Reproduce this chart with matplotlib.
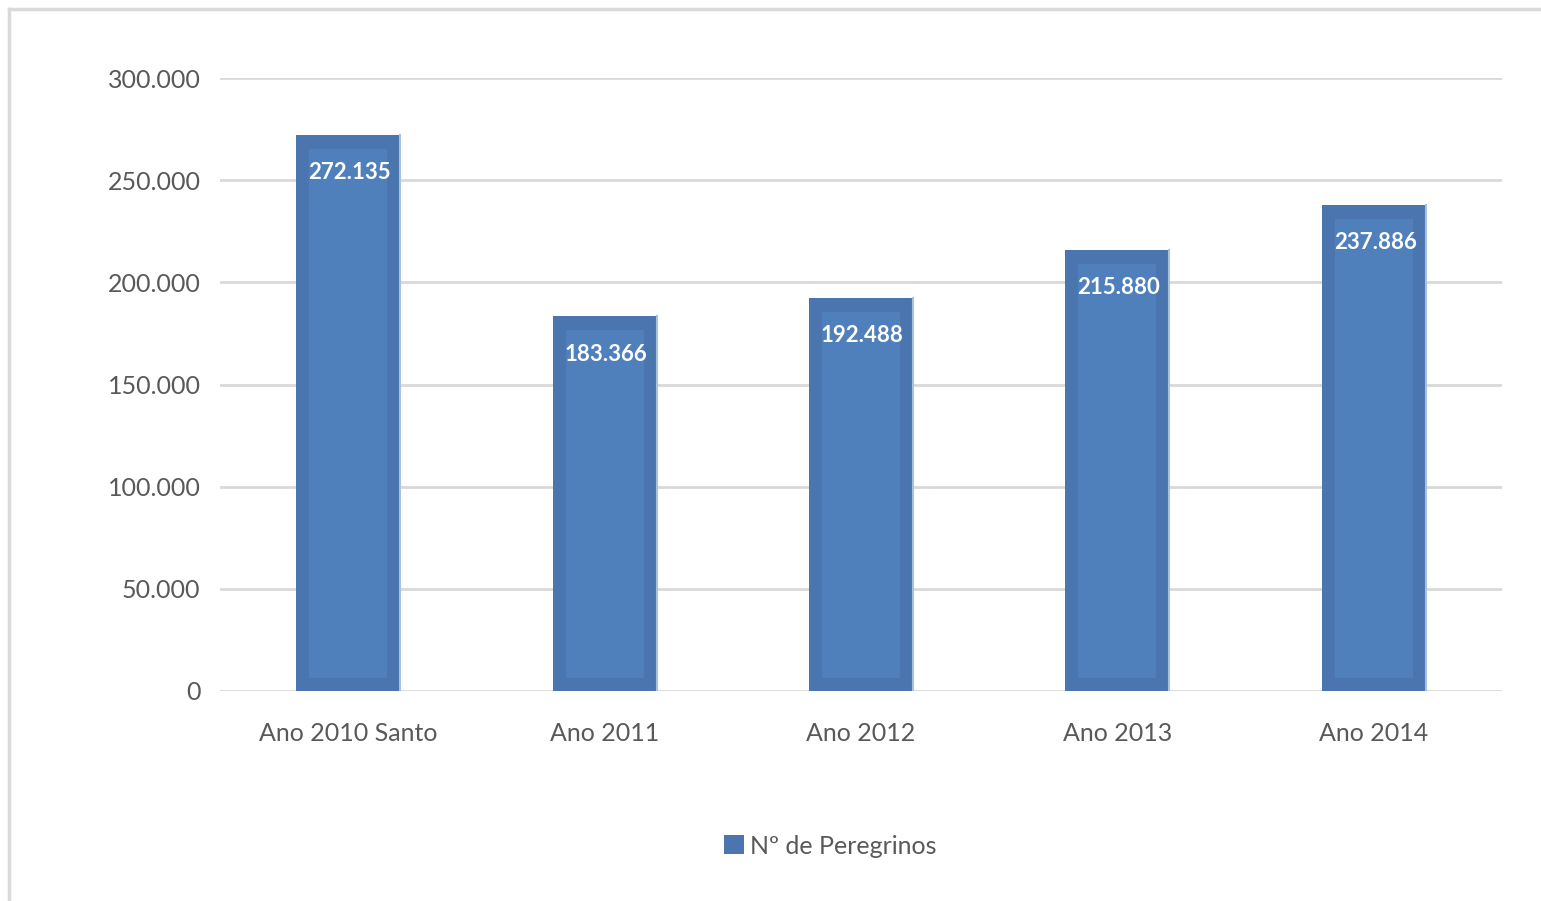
import matplotlib
matplotlib.use("Agg")
import matplotlib.pyplot as plt
from matplotlib.lines import Line2D

categories = ["Ano 2010 Santo", "Ano 2011", "Ano 2012", "Ano 2013", "Ano 2014"]
values = [272135, 183366, 192488, 215880, 237886]
value_labels = ["272.135", "183.366", "192.488", "215.880", "237.886"]
yticks = [0, 50000, 100000, 150000, 200000, 250000, 300000]
ytick_labels = ["0", "50.000", "100.000", "150.000", "200.000", "250.000", "300.000"]
series_name = "Nº de Peregrinos"

plt.rcParams['font.family'] = ['Lato', 'DejaVu Sans']

W, H = 1541, 901
fig = plt.figure(figsize=(W / 100, H / 100), dpi=100)
ax_left, ax_right = 220, 1502
ax = fig.add_axes([ax_left / W, 1 - 691 / H, (ax_right - ax_left) / W, (691 - 78) / H])

ax.set_xlim(-0.5, len(categories) - 0.5)
ax.set_ylim(0, 300000)

cat_px = (ax_right - ax_left) / len(categories)
px_per_unit = (691 - 78) / 300000.0
x = list(range(len(categories)))
bw = 104 / cat_px
inner_w = (104 - 26) / cat_px

outer_col = "#4A75AE"
inner_col = "#4F80BC"

ax.bar(x, values, width=bw, color=outer_col, zorder=3, linewidth=0)
inner_bottom = 13 / px_per_unit
inner_top_off = 14 / px_per_unit
ax.bar(x, [v - inner_top_off - inner_bottom for v in values], width=inner_w,
       bottom=inner_bottom, color=inner_col, zorder=4, linewidth=0)
# light right edge highlight
for xi, v in zip(x, values):
    ax.plot([xi + bw / 2, xi + bw / 2], [0, v], color="#A9C0DE", lw=1.5, zorder=5)

for xi, v, lab in zip(x, values, value_labels):
    ax.text(xi - bw / 2 + 12 / cat_px, v - 38 / px_per_unit, lab, color="white",
            fontsize=16, fontweight="bold", ha="left", va="center", zorder=6)

ax.set_yticks(yticks)
ax.set_yticklabels(ytick_labels)
ax.set_xticks(x)
ax.set_xticklabels(categories)
ax.tick_params(axis='both', length=0, labelsize=18, labelcolor="#595959")
ax.tick_params(axis='y', pad=14)
ax.tick_params(axis='x', pad=22)
for lab in ax.get_yticklabels():
    lab.set_va("center_baseline")
ax.grid(axis='y', color="#D9D9D9", lw=2, zorder=0)
ax.set_axisbelow(True)
for s in ax.spines.values():
    s.set_visible(False)

ax.bar([0], [0], width=0, color=outer_col, label=series_name)
leg = fig.legend(loc="center", bbox_to_anchor=(830 / W, 1 - 846 / H), frameon=False,
                 fontsize=18, handlelength=0.8, handleheight=0.8, handletextpad=0.25)
for t in leg.get_texts():
    t.set_color("#595959")

# outer border
fig.add_artist(Line2D([9 / W, 1], [1 - 9 / H, 1 - 9 / H], color="#D9D9D9", lw=2.5,
                      transform=fig.transFigure))
fig.add_artist(Line2D([9 / W, 9 / W], [0, 1 - 9 / H], color="#D9D9D9", lw=2.5,
                      transform=fig.transFigure))

fig.savefig("out.png", dpi=100)
